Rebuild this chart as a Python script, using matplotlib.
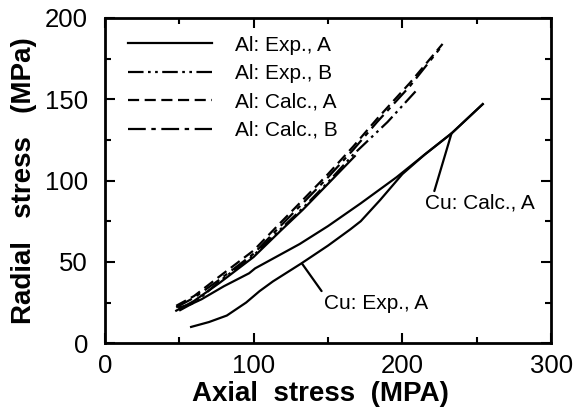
import matplotlib
matplotlib.use('Agg')
import matplotlib.pyplot as plt
from matplotlib.ticker import MultipleLocator

plt.rcParams['font.family'] = ['Liberation Sans', 'DejaVu Sans']

# Al curves (axial, radial) in MPa
al_exp_a_x = [48, 60, 77, 100, 118, 133, 150, 168]
al_exp_a_y = [20, 26, 37, 53, 69, 82, 98, 115]

al_exp_b_x = [50, 62, 77, 100, 118, 133, 150, 167, 190, 210]
al_exp_b_y = [20, 26, 38, 54, 70, 83, 99, 116, 136, 156]

al_calc_a_x = [48, 60, 77, 100, 118, 133, 150, 167, 183, 205, 227]
al_calc_a_y = [23, 29, 41, 57, 74, 88, 104, 121, 138, 160, 184]

al_calc_b_x = [48, 60, 77, 100, 118, 133, 150, 167, 183, 205, 225]
al_calc_b_y = [22, 28, 39, 55, 72, 86, 102, 119, 136, 158, 181]

# Cu curves
cu_exp_a_x = [58, 70, 82, 95, 104, 113, 132, 150, 165, 172, 185, 200, 215, 233, 254]
cu_exp_a_y = [10, 13, 17, 25, 32, 38, 49, 60, 70, 75, 88, 104, 116, 129, 147]

cu_calc_a_x = [50, 58, 65, 80, 97, 101, 115, 131, 150, 172, 196, 215, 233, 254]
cu_calc_a_y = [22, 24, 27, 35, 43, 46, 53, 61, 72, 86, 102, 116, 129, 147]

fig = plt.figure(figsize=(5.79, 4.17), dpi=100)
ax = fig.add_axes([0.181, 0.177, 0.771, 0.780])

lw = 1.6
ax.plot(al_exp_a_x, al_exp_a_y, color='black', lw=lw, ls='-', label='Al: Exp., A')
ax.plot(al_exp_b_x, al_exp_b_y, color='black', lw=lw, ls=(0, (7, 2, 1.2, 2, 1.2, 2)), label='Al: Exp., B')
ax.plot(al_calc_a_x, al_calc_a_y, color='black', lw=lw, ls=(0, (5, 2.5)), label='Al: Calc., A')
ax.plot(al_calc_b_x, al_calc_b_y, color='black', lw=lw, ls=(0, (8, 2.5, 2, 2.5)), label='Al: Calc., B')
ax.plot(cu_exp_a_x, cu_exp_a_y, color='black', lw=lw)
ax.plot(cu_calc_a_x, cu_calc_a_y, color='black', lw=lw)

# Cu labels with leader lines
ax.annotate('Cu: Calc., A', xy=(233, 129), xytext=(215, 86), fontsize=15,
            ha='left', va='center',
            arrowprops=dict(arrowstyle='-', lw=1.6, color='black',
                            shrinkA=0, shrinkB=0, relpos=(0.08, 1.0)))
ax.annotate('Cu: Exp., A', xy=(132.5, 49), xytext=(147, 24.5), fontsize=15,
            ha='left', va='center',
            arrowprops=dict(arrowstyle='-', lw=1.6, color='black',
                            shrinkA=0, shrinkB=0, relpos=(0.0, 1.0)))

ax.set_xlim(0, 300)
ax.set_ylim(0, 200)
ax.set_xticks([0, 100, 200, 300])
ax.set_yticks([0, 50, 100, 150, 200])
ax.xaxis.set_minor_locator(MultipleLocator(50))
ax.yaxis.set_minor_locator(MultipleLocator(25))
ax.tick_params(which='both', direction='in', top=True, right=True, width=1.5)
ax.tick_params(which='major', length=7, labelsize=18.5)
ax.tick_params(axis='x', which='major', pad=8)
ax.tick_params(axis='y', which='major', pad=12)
ax.tick_params(which='minor', length=4)
for s in ax.spines.values():
    s.set_linewidth(2)

ax.set_xlabel('Axial  stress  (MPA)', fontsize=20, fontweight='bold', labelpad=0)
ax.xaxis.set_label_coords(0.482, -0.115)
ax.set_ylabel('Radial   stress   (MPa)', fontsize=20, fontweight='bold', labelpad=6)

ax.legend(loc='upper left', frameon=False, fontsize=15, handlelength=4.0,
          handletextpad=1.1, labelspacing=0.45, borderaxespad=0.3,
          bbox_to_anchor=(0.02, 0.99))

plt.savefig('out.png', dpi=100)
